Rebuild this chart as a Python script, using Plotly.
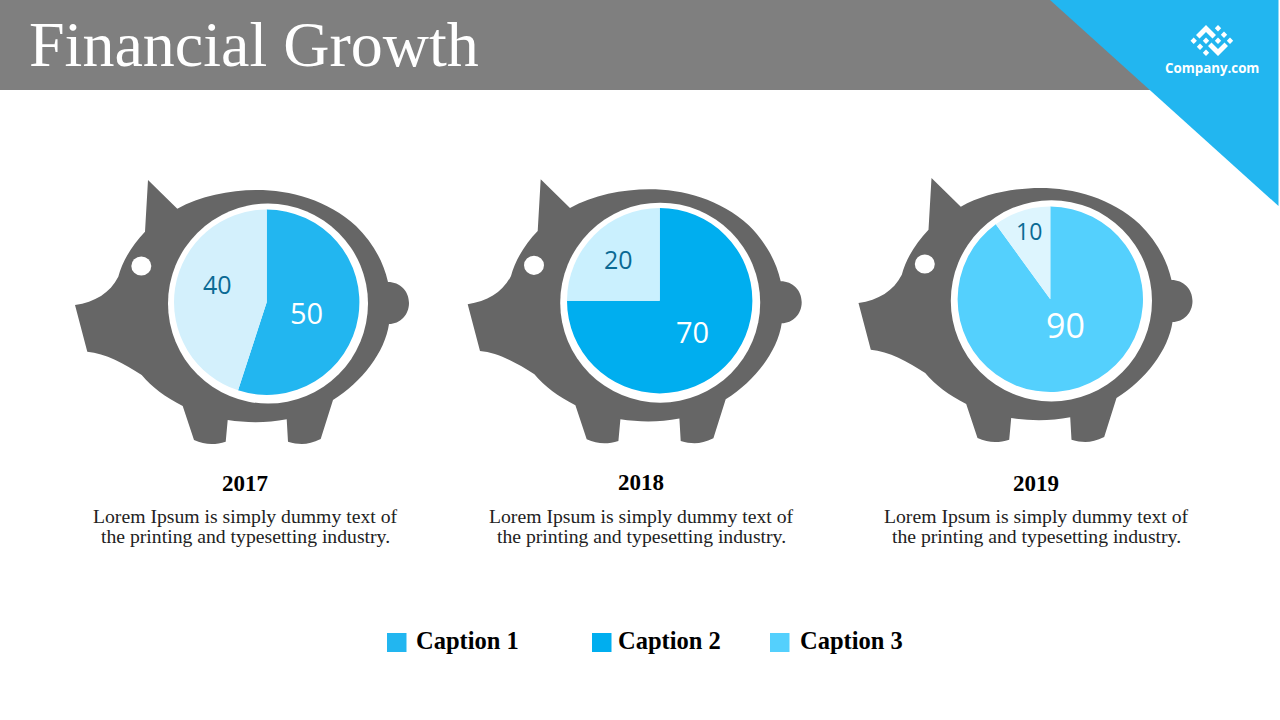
import plotly.graph_objects as go

TITLE = "Financial Growth"
LOGO_TEXT = "Company.com"
YEARS = ["2017", "2018", "2019"]
BODY_LINE_1 = "Lorem Ipsum is simply dummy text of"
BODY_LINE_2 = "the printing and typesetting industry."
CAPTIONS = ["Caption 1", "Caption 2", "Caption 3"]

# labels printed on each pie
labels_2017 = [50, 40]
labels_2018 = [70, 20]
labels_2019 = [90, 10]
# slice sizes as drawn in the picture
slices_2017 = [55, 45]
slices_2018 = [75, 25]
slices_2019 = [90, 10]

colors_2017 = ["#22B6F0", "#D3F0FC"]
colors_2018 = ["#00AEEF", "#CAF0FE"]
colors_2019 = ["#54D0FD", "#DDF5FE"]
caption_colors = ["#22B6F0", "#00AEEF", "#54D0FD"]

SERIF = "Liberation Serif"
SANS = "Open Sans"

PIG = [
    ("M", (148, 180)), ("L", (177.3, 208.7)),
    ("C", (200, 196), (230, 190), (256.7, 190)),
    ("C", (290, 190), (328, 200), (356, 226)),
    ("C", (372, 242), (383, 260), (388, 282)),
    ("C", (400, 282), (409, 291), (409, 303)),
    ("C", (409, 315), (400, 324), (389, 324)),
    ("C", (385, 352), (362, 382), (333, 400)),
    ("L", (320.7, 439)),
    ("C", (308, 445), (300, 445), (288, 441.7)),
    ("L", (286.7, 419.3)),
    ("C", (267, 423), (247, 423), (227.7, 420)),
    ("L", (225.7, 441.7)),
    ("C", (215, 445), (205, 445), (194, 440)),
    ("L", (182.7, 406)),
    ("C", (165, 397), (152, 387), (141.7, 375)),
    ("C", (125, 364), (105, 353), (87.3, 351.7)),
    ("L", (75, 305)),
    ("C", (95, 302), (110, 293), (118.3, 276.7)),
    ("C", (122, 262), (132, 245), (145, 231.7)),
]


def pig_path(dx, dy):
    out = []
    for cmd in PIG:
        pts = " ".join(f"{p[0]+dx:.1f},{p[1]+dy:.1f}" for p in cmd[1:])
        out.append(f"{cmd[0]}{pts}")
    return " ".join(out) + " Z"


def circle(cx, cy, rx, ry, color):
    return dict(type="circle", xref="x", yref="y", x0=cx-rx, x1=cx+rx, y0=cy-ry, y1=cy+ry,
                fillcolor=color, line_width=0, layer="below")


def poly(d, color):
    return dict(type="path", xref="x", yref="y", path=d, fillcolor=color, line_width=0, layer="below")


def diamond(cx, cy, r=3.2):
    return poly(f"M{cx},{cy-r} L{cx+r},{cy} L{cx},{cy+r} L{cx-r},{cy} Z", "#FFFFFF")


W, H = 1280, 720
shapes = [
    poly("M0,0 L1160,0 L1160,90 L0,90 Z", "#7F7F7F"),
    poly("M1050,0 L1278.5,0 L1278.5,206 Z", "#22B6F0"),
]
for dx, dy in [(0, 0), (392.7, -0.7), (783.5, -2)]:
    shapes.append(poly(pig_path(dx, dy), "#666666"))
    shapes.append(circle(141.3 + dx, 266 + dy, 10, 9.6, "#FFFFFF"))

rings = [(268.0, 303.6, 100.0), (660.2, 302.7, 100.0), (1051.4, 300.8, 100.6)]
for cx, cy, r in rings:
    shapes.append(circle(cx, cy, r, r, "#FFFFFF"))

for cx, cy in [(1218, 28.3), (1224, 34.7), (1230, 40.7), (1193.7, 40.7), (1200, 46.7),
               (1206, 52.7), (1206, 40.7), (1218, 40.7)]:
    shapes.append(diamond(cx, cy))
shapes.append(poly("M1206,25 L1216,35 L1212.5,38.5 L1206,32 L1199.5,38.5 L1196,35 Z", "#FFFFFF"))
shapes.append(poly("M1218,56 L1228,46 L1224.5,42.5 L1218,49 L1211.5,42.5 L1208,46 Z", "#FFFFFF"))

for x0, color in zip([387, 592, 770], caption_colors):
    shapes.append(dict(type="rect", xref="x", yref="y", x0=x0, x1=x0+19.5, y0=633, y1=652,
                       fillcolor=color, line_width=0, layer="below"))

fig = go.Figure()
fig.add_trace(go.Scatter(x=[], y=[], showlegend=False, hoverinfo="skip"))

pies = [
    (slices_2017, colors_2017, 266.7, 302.2),
    (slices_2018, colors_2018, 659.7, 300.7),
    (slices_2019, colors_2019, 1050.3, 299.3),
]
R = 92.7
for vals, cols, cx, cy in pies:
    fig.add_trace(go.Pie(
        values=vals, sort=False, direction="clockwise", rotation=0,
        marker=dict(colors=cols, line=dict(width=0)),
        textinfo="none", hoverinfo="skip", showlegend=False,
        domain=dict(x=[(cx-R)/W, (cx+R)/W], y=[1-(cy+R)/H, 1-(cy-R)/H]),
    ))

ann = []


def text(x, y, s, size, color, family, anchor="center", bold=False):
    label = f"<b>{s}</b>" if bold else str(s)
    ann.append(dict(x=x, y=y, xref="x", yref="y", text=label, showarrow=False,
                    xanchor=anchor, yanchor="middle",
                    font=dict(size=size, color=color, family=family)))


text(27, 44, TITLE, 64, "#FFFFFF", SERIF, anchor="left")
text(1212, 67.5, LOGO_TEXT, 13.3, "#FFFFFF", SANS, bold=True)

DARK = "#0A6A94"
text(306.7, 312.5, labels_2017[0], 29, "#FFFFFF", SANS)
text(217.3, 283.5, labels_2017[1], 25, DARK, SANS)
text(692.7, 331.2, labels_2018[0], 29, "#FFFFFF", SANS)
text(618.3, 258.5, labels_2018[1], 25, DARK, SANS)
text(1065, 324.5, labels_2019[0], 34, "#FFFFFF", SANS)
text(1029.3, 230.5, labels_2019[1], 23, DARK, SANS)

for year, cx, y in zip(YEARS, [245, 641, 1036], [483.5, 482.5, 483.5]):
    text(cx, y, year, 23, "#000000", SERIF, bold=True)
    text(cx, 516, BODY_LINE_1, 19.7, "#222222", SERIF)
    text(cx, 536, BODY_LINE_2, 19.7, "#222222", SERIF)

for cap, x in zip(CAPTIONS, [413.5, 615.5, 797.5]):
    text(x, 640.5, cap, 24.5, "#000000", SERIF, anchor="left", bold=True)

fig.update_layout(
    width=W, height=H, autosize=False,
    margin=dict(l=0, r=0, t=0, b=0),
    paper_bgcolor="#FFFFFF", plot_bgcolor="#FFFFFF",
    xaxis=dict(range=[0, W], visible=False, fixedrange=True),
    yaxis=dict(range=[H, 0], visible=False, fixedrange=True),
    shapes=shapes, annotations=ann,
)
fig.write_html("out.html", config=dict(displayModeBar=False),
               post_script="document.body.style.margin='0';document.body.style.overflow='hidden';")
